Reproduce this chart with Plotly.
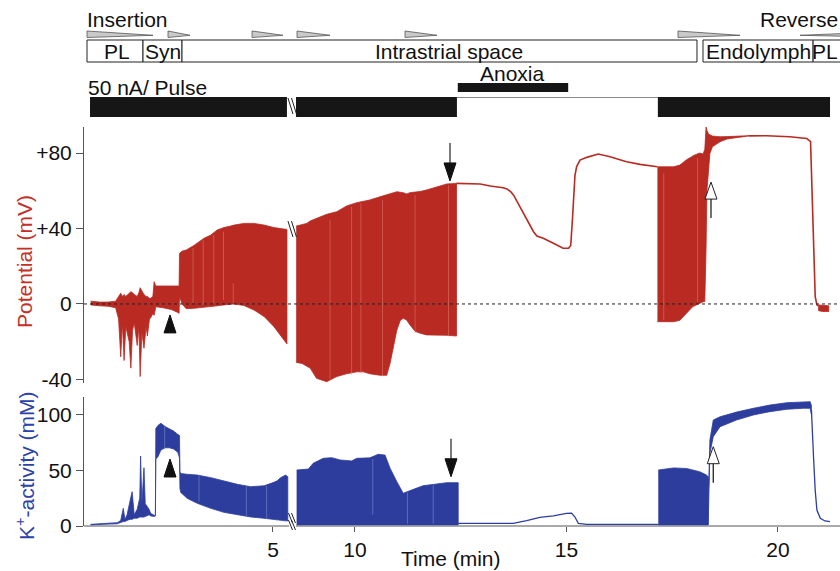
import plotly.graph_objects as go

# ---------------- time axis with a break ----------------
X_START = 0.532      # first minute shown
BREAK_T0 = 5.378     # end of first time segment (min)
BREAK_T1 = 8.605     # start of second time segment (min)
GAP_U = 0.1655       # visual width of the break (in minutes of axis)
X_END_T = 21.466     # last minute shown


def u(t):
    """map real time (min) onto the broken axis coordinate"""
    if t <= BREAK_T0 + 1e-9:
        return t
    return t - BREAK_T1 + BREAK_T0 + GAP_U


def U(ts):
    return [u(t) for t in ts]


RED = 'rgb(184,42,34)'
BLUE = 'rgb(45,61,158)'
FONT = 'Liberation Sans, Arial, Helvetica, sans-serif'
FS = 21

# ---------------- potential (mV) ----------------
pot1_t = [0.69, 0.90, 1.10, 1.28, 1.35, 1.40, 1.44, 1.48, 1.52, 1.56, 1.60, 1.64, 1.68, 1.72,
          1.79, 1.83, 1.86, 1.90, 1.95, 2.00, 2.03, 2.08, 2.11, 2.16, 2.19, 2.23, 2.40, 2.60,
          2.75, 2.78, 2.79, 2.85, 2.95, 3.13, 3.37, 3.53, 3.68, 3.84, 4.00, 4.08, 4.31, 4.55,
          4.79, 4.87, 5.02, 5.26, 5.33]
pot1_hi = [1.5, 1.0, 1.0, 1.5, 4.0, 5.7, 4.0, 5.0, 4.0, 5.0, 6.0, 6.5, 6.0, 5.0,
           4.0, 6.0, 8.6, 7.0, 5.0, 4.0, 4.0, 3.0, 3.0, 4.0, 11.8, 9.5, 9.5, 9.5,
           9.5, 9.5, 26.8, 28.0, 28.6, 31.0, 34.8, 36.5, 39.2, 40.5, 41.3, 41.8, 42.7, 42.7,
           41.8, 41.3, 40.5, 39.7, 39.5]
pot1_lo = [-0.5, -1.0, -1.2, -2.0, -8.0, -28.0, -10.0, -30.0, -12.0, -15.0, -20.0, -34.0, -14.0, -10.0,
           -22.0, -12.0, -38.5, -15.0, -23.5, -12.0, -17.0, -8.0, -7.3, -5.0, -6.0, -1.5, -2.0, -3.0,
           -4.5, -5.0, 3.9, 0.0, -2.5, -2.3, -1.6, -1.4, -1.0, -0.5, -0.3, 0.0, -0.8, -3.2,
           -6.7, -8.5, -12.0, -19.0, -21.2]

pot2_t = [8.61, 8.75, 8.86, 8.94, 9.09, 9.33, 9.57, 9.80, 10.04, 10.20, 10.35, 10.59, 10.75,
          10.83, 10.91, 10.99, 11.07, 11.14, 11.22, 11.30, 11.42, 11.54, 11.69, 11.93, 12.17, 12.40]
pot2_hi = [41.3, 42.0, 42.7, 44.0, 45.4, 47.5, 48.9, 51.9, 53.7, 54.5, 55.1, 56.8, 58.0,
           58.6, 59.0, 59.5, 59.2, 59.0, 58.3, 59.0, 59.3, 59.6, 60.4, 62.1, 63.6, 63.9]
pot2_lo = [-31.0, -31.5, -33.0, -34.0, -39.4, -41.2, -38.5, -37.0, -36.0, -36.0, -37.0, -37.8, -37.8,
           -31.4, -23.0, -13.8, -8.8, -7.6, -8.5, -11.1, -14.5, -15.5, -16.4, -16.4, -16.6, -17.0]

pot3_t = [12.40, 12.70, 12.96, 13.20, 13.35, 13.50, 13.59, 13.68, 13.75, 13.90, 14.06, 14.22,
          14.30, 14.45, 14.69, 14.92, 15.05, 15.10, 15.14, 15.20, 15.24, 15.32, 15.48, 15.75,
          16.03, 16.42, 16.74, 17.13, 17.15]
pot3_v = [63.9, 63.8, 63.6, 62.5, 62.1, 61.6, 61.0, 59.5, 57.7, 51.6, 44.5, 38.3,
          36.0, 34.8, 32.2, 29.5, 29.5, 31.0, 44.5, 68.0, 72.8, 76.3, 77.7, 79.5,
          78.0, 75.4, 74.0, 73.1, 72.7]

pot4_t = [17.15, 17.35, 17.53, 17.68, 17.80, 17.84, 17.96, 17.99, 18.12, 18.15, 18.23, 18.27,
          18.30, 18.32, 18.36, 18.39, 18.45, 18.55, 18.63, 18.80, 19.10, 19.30]
pot4_hi = [72.7, 72.7, 72.7, 73.6, 75.9, 76.5, 78.0, 78.5, 79.8, 80.0, 79.5, 82.0,
           93.9, 92.0, 90.0, 89.5, 89.0, 88.8, 88.6, 88.7, 89.0, 89.2]
pot4_lo = [-9.4, -9.4, -9.4, -8.7, -6.0, -5.0, -2.0, -1.4, 0.0, 0.4, 1.2, 1.3,
           30.0, 60.0, 72.7, 79.8, 83.3, 85.0, 86.0, 87.5, 88.4, 89.0]

pot5_t = [19.30, 19.73, 20.28, 20.68, 20.77, 20.80, 20.84, 20.88, 20.92, 20.95]
pot5_v = [89.1, 89.2, 88.6, 87.7, 86.0, 62.0, 27.0, 3.9, -0.5, -1.0]

pot6_t = [20.95, 21.05, 21.20]
pot6_hi = [-0.5, -0.8, -1.0]
pot6_lo = [-3.5, -4.0, -4.0]

# lighter streaks (gaps between pulse trains) inside the potential band
pot_streak_t = [3.11, 3.35, 3.60, 3.83, 4.06, 9.41, 9.92, 10.14, 10.65, 11.42, 12.21, 17.30, 18.10]
pot_streak_hi = [29.5, 33.9, 36.6, 38.3, 11.0, 44.5, 51.5, 53.4, 55.1, 57.7, 63.0, 69.2, 77.2]
pot_streak_lo = [0.4, -0.5, 0.4, 2.1, 0.4, -40.0, -37.6, -36.7, -38.5, -15.5, -17.3, -8.5, 1.2]

# ---------------- K+ activity (mM) ----------------
k1_t = [0.69, 1.00, 1.32, 1.40, 1.46, 1.50, 1.55, 1.62, 1.67, 1.72, 1.79, 1.85, 1.87, 1.90,
        1.95, 1.98, 2.03, 2.07, 2.11, 2.20, 2.22, 2.23, 2.28, 2.35, 2.45, 2.55, 2.65, 2.75,
        2.79, 2.80, 2.82, 2.97, 3.21, 3.53, 3.84, 4.16, 4.47, 4.79, 5.02, 5.10, 5.18, 5.30, 5.35]
k1_hi = [1.5, 2.0, 3.0, 5.0, 15.8, 6.0, 10.0, 22.4, 30.7, 10.0, 15.0, 25.0, 62.7, 20.0,
         52.2, 20.0, 17.3, 15.0, 11.3, 9.5, 10.0, 87.4, 90.0, 92.0, 89.0, 87.0, 85.0, 82.0,
         81.0, 48.6, 47.0, 46.3, 45.6, 43.3, 40.3, 37.3, 35.2, 36.0, 39.1, 40.5, 43.3, 45.6, 44.0]
k1_lo = [1.0, 1.5, 2.0, 3.0, 4.0, 4.0, 5.0, 6.0, 6.0, 7.0, 7.0, 8.0, 8.0, 8.0,
         8.0, 8.5, 9.0, 10.0, 9.0, 8.5, 9.0, 60.0, 62.0, 68.0, 70.0, 70.0, 69.0, 66.0,
         60.6, 33.7, 30.0, 24.8, 20.3, 15.8, 12.2, 9.8, 8.1, 6.9, 6.0, 5.4, 5.0, 4.6, 4.5]

k2_t = [8.62, 8.90, 9.01, 9.25, 9.45, 9.65, 9.92, 10.04, 10.35, 10.55, 10.71, 10.83, 10.99,
        11.14, 11.38, 11.61, 11.93, 12.17, 12.44]
k2_hi = [50.1, 51.0, 56.1, 60.6, 61.2, 59.1, 58.3, 60.6, 61.0, 64.2, 63.5, 51.7, 39.7,
         29.3, 32.8, 36.1, 37.6, 38.8, 38.8]
k2_lo = [1.0, 1.0, 1.0, 1.0, 1.0, 1.0, 1.0, 1.0, 1.0, 1.0, 1.0, 1.0, 1.0,
         1.0, 1.0, 1.0, 1.0, 1.0, 1.0]

k3_t = [12.44, 13.74, 14.06, 14.37, 14.69, 15.00, 15.12, 15.20, 15.28, 15.48, 17.17]
k3_v = [2.4, 2.4, 4.8, 7.8, 9.0, 11.3, 11.5, 8.0, 2.4, 1.5, 1.5]

k4_t = [17.17, 17.53, 17.84, 18.15, 18.31, 18.35]
k4_hi = [50.1, 52.0, 51.5, 48.6, 45.7, 44.0]
k4_lo = [1.0, 1.0, 1.0, 1.0, 1.0, 1.0]

k5_t = [18.35, 18.36, 18.39, 18.47, 18.63, 19.02, 19.42, 19.81, 20.21, 20.60, 20.76, 20.79]
k5_hi = [44.0, 35.0, 77.0, 94.9, 97.8, 102.0, 105.4, 108.3, 110.4, 111.3, 111.3, 108.0]
k5_lo = [1.0, 30.0, 65.0, 80.0, 88.9, 94.9, 99.4, 102.4, 104.5, 105.4, 105.4, 100.0]

k6_t = [20.79, 20.80, 20.84, 20.88, 20.92, 21.00, 21.11, 21.23]
k6_v = [104.0, 92.0, 62.0, 32.0, 14.3, 6.9, 4.5, 4.0]

k_streak_t = [2.44, 3.25, 4.37, 4.85, 10.42, 11.24, 11.85]
k_streak_hi = [88.9, 45.0, 35.5, 36.0, 60.0, 30.0, 37.0]
k_streak_lo = [69.5, 22.0, 8.5, 6.8, 10.0, 2.0, 2.0]

# ---------------- protocol / events ----------------
comp_names = ['PL', 'Syn', 'Intrastrial space', 'Endolymph', 'PL']
comp_start = [0.603, 1.927, 2.849, 18.227, 20.83]
comp_end = [1.927, 2.849, 18.085, 20.83, 23.0]
comp_label_t = [1.31, 2.39, 12.22, 19.53, X_END_T]

wedge_start = [0.603, 2.518, 4.504, 8.629, 11.182, 17.636, 20.52]
wedge_end = [2.163, 3.038, 5.236, 9.409, 11.939, 19.102, 23.0]
wedge_dir = [1, 1, 1, 1, 1, 1, -1]

pulse_start = [0.674, 8.605, 17.16]
pulse_end = [5.33, 12.41, 21.23]
anoxia_t = [12.43, 15.04]

tick_min = [5, 10, 15, 20]
pot_ticks = [80, 40, 0, -40]
pot_ticktext = ['+80', '+40', '0', '-40']
k_ticks = [0, 50, 100]

arrow_down_t = [12.246, 12.27]     # black arrows (potential panel, K+ panel)
arrow_down_v = [65.2, 44.1]
arrow_up_t = [18.416, 18.47]       # open arrows
arrow_up_v = [64.6, 71.0]
tri_t = [2.565, 2.565]             # filled triangles
tri_v = [-5.8, 60.0]

# ---------------- layout helpers ----------------
FIG_W, FIG_H = 840, 571
M_L, M_B = 84, 45
PLOT_H = FIG_H - M_B


def py(px):
    """reference pixel row -> paper fraction"""
    return 1 - px / PLOT_H


def pxx(px):
    """reference pixel column -> paper fraction"""
    return (px - M_L) / (FIG_W - M_L)


fig = go.Figure()


def band(ts, hi, lo, color, xa, ya):
    fig.add_trace(go.Scatter(x=U(ts) + U(ts)[::-1], y=hi + lo[::-1], mode='lines',
                             fill='toself', fillcolor=color, line=dict(color=color, width=0.8),
                             xaxis=xa, yaxis=ya, hoverinfo='skip', showlegend=False))


def line(ts, v, color, xa, ya, w=1.6):
    fig.add_trace(go.Scatter(x=U(ts), y=v, mode='lines', line=dict(color=color, width=w),
                             xaxis=xa, yaxis=ya, hoverinfo='skip', showlegend=False))


def streaks(ts, hi, lo, color, xa, ya):
    xs, ys = [], []
    for t, h, l in zip(ts, hi, lo):
        xs += [u(t), u(t), None]
        ys += [h, l, None]
    fig.add_trace(go.Scatter(x=xs, y=ys, mode='lines', line=dict(color=color, width=1),
                             xaxis=xa, yaxis=ya, hoverinfo='skip', showlegend=False))


band(pot1_t, pot1_hi, pot1_lo, RED, 'x', 'y')
band(pot2_t, pot2_hi, pot2_lo, RED, 'x', 'y')
line(pot3_t, pot3_v, RED, 'x', 'y')
band(pot4_t, pot4_hi, pot4_lo, RED, 'x', 'y')
line(pot5_t, pot5_v, RED, 'x', 'y')
band(pot6_t, pot6_hi, pot6_lo, RED, 'x', 'y')
streaks(pot_streak_t, pot_streak_hi, pot_streak_lo, 'rgba(235,140,130,0.45)', 'x', 'y')

band(k1_t, k1_hi, k1_lo, BLUE, 'x2', 'y2')
band(k2_t, k2_hi, k2_lo, BLUE, 'x2', 'y2')
line(k3_t, k3_v, BLUE, 'x2', 'y2', 1.3)
band(k4_t, k4_hi, k4_lo, BLUE, 'x2', 'y2')
band(k5_t, k5_hi, k5_lo, BLUE, 'x2', 'y2')
line(k6_t, k6_v, BLUE, 'x2', 'y2', 1.3)
streaks(k_streak_t, k_streak_hi, k_streak_lo, 'rgba(150,165,225,0.45)', 'x2', 'y2')

shapes = []
annots = []
DARK = '#161616'

# zero line in potential panel
shapes.append(dict(type='line', xref='x', yref='y', x0=X_START, x1=u(X_END_T), y0=0, y1=0,
                   line=dict(color='#222', width=1, dash='dot'), layer='above'))

# broken x axis line (bottom panel)
for a, b in [(X_START, u(BREAK_T0)), (u(BREAK_T1), u(X_END_T))]:
    shapes.append(dict(type='line', xref='x2', yref='paper', x0=a, x1=b, y0=0, y1=0,
                       line=dict(color='#555', width=1)))

# wedges (insertion / reverse)
W_TOP, W_BOT, W_TIP = py(31), py(37.5), py(35.3)
for s, e, d in zip(wedge_start, wedge_end, wedge_dir):
    a, b = u(s), u(e)
    if d > 0:
        path = f'M{a},{W_TOP} L{a},{W_BOT} L{b},{W_TIP} Z'
    else:
        path = f'M{b},{W_TOP} L{b},{W_BOT} L{a},{W_TIP} Z'
    shapes.append(dict(type='path', xref='x', yref='paper', path=path,
                       fillcolor='#c9c9c9', line=dict(color='#555', width=0.8)))

# compartment boxes
for i, (name, s, e, lt) in enumerate(zip(comp_names, comp_start, comp_end, comp_label_t)):
    shapes.append(dict(type='rect', xref='x', yref='paper', x0=u(s), x1=u(e), y0=py(62), y1=py(40),
                       fillcolor='white', line=dict(color='#222', width=1)))
    last = i == len(comp_names) - 1
    annots.append(dict(text=name, xref='x', yref='paper', x=u(lt), y=py(51.5), showarrow=False,
                       xanchor='right' if last else 'center', yanchor='middle',
                       font=dict(size=FS, color='#111', family=FONT)))

# pulse bars
for s, e in zip(pulse_start, pulse_end):
    shapes.append(dict(type='rect', xref='x', yref='paper', x0=u(s), x1=u(e), y0=py(117), y1=py(97),
                       fillcolor=DARK, line=dict(width=0)))
shapes.append(dict(type='line', xref='x', yref='paper', x0=u(pulse_end[1]), x1=u(pulse_start[2]),
                   y0=py(97.5), y1=py(97.5), line=dict(color='#888', width=1)))
# anoxia bar
shapes.append(dict(type='rect', xref='x', yref='paper', x0=u(anoxia_t[0]), x1=u(anoxia_t[1]),
                   y0=py(92), y1=py(83), fillcolor=DARK, line=dict(width=0)))

# break marks
BX = u(BREAK_T0) + GAP_U / 2
SLASH = 'M-4.5,8 L0.5,-8 M-1,8 L4,-8'
for yref, yv in [('paper', py(106)), ('y', 39.7)]:
    shapes.append(dict(type='path', xref='x', yref=yref, xsizemode='pixel', ysizemode='pixel',
                       xanchor=BX, yanchor=yv, path=SLASH, line=dict(color='#222', width=1)))
for off in [8, 1]:
    shapes.append(dict(type='path', xref='x2', yref='paper', xsizemode='pixel', ysizemode='pixel',
                       xanchor=BX, yanchor=0,
                       path=f'M-4,{off + 5} L0,{off - 5} M-1,{off + 5} L3,{off - 5}',
                       line=dict(color='#222', width=1)))

# arrows & triangles
for t, v, xa, ya in zip(arrow_down_t, arrow_down_v, ['x', 'x2'], ['y', 'y2']):
    shapes.append(dict(type='path', xref=xa, yref=ya, xsizemode='pixel', ysizemode='pixel',
                       xanchor=u(t), yanchor=v, path='M0,38 L0,17', line=dict(color='#333', width=1.3)))
    shapes.append(dict(type='path', xref=xa, yref=ya, xsizemode='pixel', ysizemode='pixel',
                       xanchor=u(t), yanchor=v, path='M-6,18 L6,18 L0,0 Z', fillcolor='#111',
                       line=dict(color='#111', width=1)))
for t, v, xa, ya in zip(arrow_up_t, arrow_up_v, ['x', 'x2'], ['y', 'y2']):
    shapes.append(dict(type='path', xref=xa, yref=ya, xsizemode='pixel', ysizemode='pixel',
                       xanchor=u(t), yanchor=v, path='M0,-17 L0,-36', line=dict(color='#222', width=1.3)))
    shapes.append(dict(type='path', xref=xa, yref=ya, xsizemode='pixel', ysizemode='pixel',
                       xanchor=u(t), yanchor=v, path='M-6,-17 L6,-17 L0,0 Z', fillcolor='white',
                       line=dict(color='#222', width=1)))
for t, v, xa, ya in zip(tri_t, tri_v, ['x', 'x2'], ['y', 'y2']):
    shapes.append(dict(type='path', xref=xa, yref=ya, xsizemode='pixel', ysizemode='pixel',
                       xanchor=u(t), yanchor=v, path='M-6,-18 L6,-18 L0,0 Z', fillcolor='#111',
                       line=dict(color='#111', width=1)))

# text labels
txt = dict(showarrow=False, font=dict(size=FS, color='#111', family=FONT))
annots.append(dict(text='Insertion', xref='x', yref='paper', x=u(0.56), y=py(20), xanchor='left',
                   yanchor='middle', **txt))
annots.append(dict(text='Reverse', xref='paper', yref='paper', x=1.0, y=py(20), xanchor='right',
                   yanchor='middle', **txt))
annots.append(dict(text='50 nA/ Pulse', xref='x', yref='paper', x=u(0.58), y=py(87.5), xanchor='left',
                   yanchor='middle', **txt))
annots.append(dict(text='Anoxia', xref='x', yref='paper', x=u(sum(anoxia_t) / 2), y=py(74),
                   xanchor='center', yanchor='middle', **txt))
annots.append(dict(text='Time (min)', xref='paper', yref='paper', x=pxx(451), y=py(558),
                   xanchor='center', yanchor='middle', **txt))
annots.append(dict(text='Potential (mV)', xref='paper', yref='paper', x=pxx(25), y=py(262),
                   xanchor='center', yanchor='middle', textangle=-90, showarrow=False,
                   font=dict(size=FS, color='rgb(196,48,40)', family=FONT)))
annots.append(dict(text='K<sup>+</sup>-activity (mM)', xref='paper', yref='paper', x=pxx(25),
                   y=py(466), xanchor='center', yanchor='middle', textangle=-90, showarrow=False,
                   font=dict(size=FS, color='rgb(45,65,170)', family=FONT)))

axis_common = dict(showgrid=False, zeroline=False)
yax_common = dict(showline=True, linecolor='#555', linewidth=1, ticks='outside', ticklen=7,
                  tickcolor='#555', tickfont=dict(size=FS, color='#111', family=FONT), **axis_common)

fig.update_layout(
    width=FIG_W, height=FIG_H,
    margin=dict(l=M_L, r=0, t=0, b=M_B),
    paper_bgcolor='white', plot_bgcolor='white',
    showlegend=False,
    xaxis=dict(domain=[0, 1], anchor='y', range=[X_START, u(X_END_T)], showticklabels=False,
               ticks='', showline=False, **axis_common),
    xaxis2=dict(domain=[0, 1], anchor='y2', range=[X_START, u(X_END_T)], tickvals=U(tick_min),
                ticktext=[str(m) for m in tick_min], ticks='outside', ticklen=5, tickcolor='#555',
                showline=False, tickfont=dict(size=FS, color='#111', family=FONT), **axis_common),
    yaxis=dict(domain=[py(383), py(127)], anchor='x', range=[-41.9, 93.8], tickvals=pot_ticks,
               ticktext=pot_ticktext, **yax_common),
    yaxis2=dict(domain=[0, py(397)], anchor='x2', range=[0, 115.5], tickvals=k_ticks, **yax_common),
    shapes=shapes,
    annotations=annots,
)

# the page body's default 8 px margin would push the 840x571 figure out of the window
fig.write_html('out.html', config={'displayModeBar': False},
               post_script="document.body.style.margin='0';document.body.style.overflow='hidden';")
